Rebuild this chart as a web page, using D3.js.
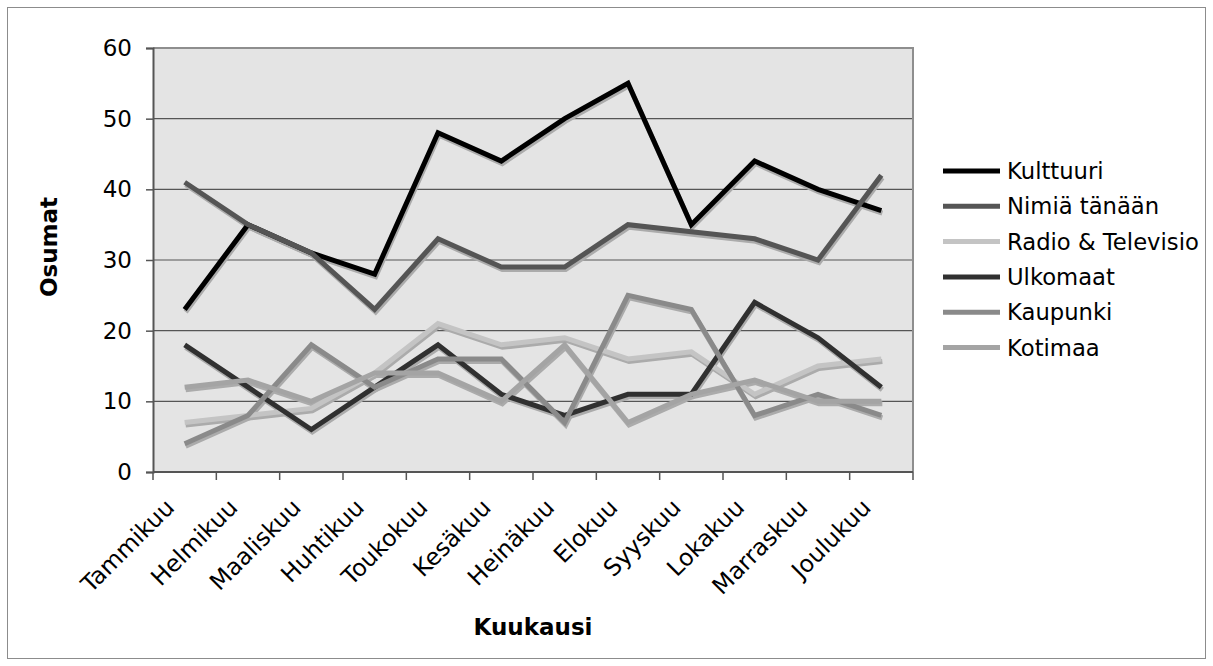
<!DOCTYPE html>
<html>
<head>
<meta charset="utf-8">
<script src="https://cdn.jsdelivr.net/npm/d3@7"></script>
<style>
  body { margin: 0; background: #fff; }
  text { font-family: "DejaVu Sans", Verdana, sans-serif; }
</style>
</head>
<body>
<div id="chart"></div>
<script>
// data
var months = ["Tammikuu", "Helmikuu", "Maaliskuu", "Huhtikuu", "Toukokuu", "Kesäkuu",
              "Heinäkuu", "Elokuu", "Syyskuu", "Lokakuu", "Marraskuu", "Joulukuu"];
var kulttuuri = [23, 35, 31, 28, 48, 44, 50, 55, 35, 44, 40, 37];
var nimiaTanaan = [41, 35, 31, 23, 33, 29, 29, 35, 34, 33, 30, 42];
var radioTv = [7, 8, 9, 14, 21, 18, 19, 16, 17, 11, 15, 16];
var ulkomaat = [18, 12, 6, 12, 18, 11, 8, 11, 11, 24, 19, 12];
var kaupunki = [4, 8, 18, 12, 16, 16, 7, 25, 23, 8, 11, 8];
var kotimaa = [12, 13, 10, 14, 14, 10, 18, 7, 11, 13, 10, 10];
var seriesNames = ["Kulttuuri", "Nimiä tänään", "Radio & Televisio", "Ulkomaat", "Kaupunki", "Kotimaa"];
var yTicks = [0, 10, 20, 30, 40, 50, 60];

var series = [kulttuuri, nimiaTanaan, radioTv, ulkomaat, kaupunki, kotimaa];
var colors = ["#000000", "#555555", "#c4c4c4", "#303030", "#8a8a8a", "#a4a4a4"];

var width = 1213, height = 666;
var plot = {left: 153, right: 913, top: 48, bottom: 472};
var fs = 23;

var svg = d3.select("#chart").append("svg")
  .attr("width", width)
  .attr("height", height);

// outer frame
svg.append("rect")
  .attr("x", 7.5).attr("y", 7.5)
  .attr("width", 1198).attr("height", 651)
  .attr("fill", "#fff")
  .attr("stroke", "#8c8c8c");

var x = d3.scaleBand().domain(months).range([plot.left, plot.right]);
var y = d3.scaleLinear().domain([0, 60]).range([plot.bottom, plot.top]);
function cx(i) { return x(months[i]) + x.bandwidth() / 2; }

// plot background
svg.append("rect")
  .attr("x", plot.left).attr("y", plot.top)
  .attr("width", plot.right - plot.left).attr("height", plot.bottom - plot.top)
  .attr("fill", "#e4e4e4");

// grid
svg.append("g").selectAll("line")
  .data(yTicks.filter(function(d) { return d > 0 && d < 60; }))
  .enter().append("line")
  .attr("x1", plot.left).attr("x2", plot.right)
  .attr("y1", function(d) { return y(d); })
  .attr("y2", function(d) { return y(d); })
  .attr("stroke", "#555")
  .attr("stroke-width", 1.2);

// top and right border
svg.append("path")
  .attr("d", "M" + plot.left + "," + plot.top + "H" + plot.right + "V" + plot.bottom)
  .attr("fill", "none")
  .attr("stroke", "#8e8e8e")
  .attr("stroke-width", 2);

// y axis
var yAxis = svg.append("g")
  .attr("transform", "translate(" + plot.left + ",0)")
  .call(d3.axisLeft(y).tickValues(yTicks).tickSize(7).tickPadding(14));
yAxis.select(".domain").attr("stroke", "#555").attr("stroke-width", 2);
yAxis.selectAll(".tick line").attr("stroke", "#555").attr("stroke-width", 1.5);
yAxis.selectAll("text")
  .attr("font-size", fs)
  .attr("fill", "#000")
  .style("font-family", "'DejaVu Sans', sans-serif");

// x axis: ticks at category boundaries
var xAxis = svg.append("g");
xAxis.append("line")
  .attr("x1", plot.left).attr("x2", plot.right)
  .attr("y1", plot.bottom).attr("y2", plot.bottom)
  .attr("stroke", "#555").attr("stroke-width", 2);
xAxis.selectAll("line.tk")
  .data(months.concat(["end"]))
  .enter().append("line")
  .attr("class", "tk")
  .attr("x1", function(d) { return d === "end" ? plot.right : x(d); })
  .attr("x2", function(d) { return d === "end" ? plot.right : x(d); })
  .attr("y1", plot.bottom).attr("y2", plot.bottom + 8)
  .attr("stroke", "#555").attr("stroke-width", 1.5);
xAxis.selectAll("text")
  .data(months)
  .enter().append("text")
  .attr("transform", function(d, i) {
    return "translate(" + (cx(i) - 9) + "," + 509 + ") rotate(-45)";
  })
  .attr("text-anchor", "end")
  .attr("font-size", 23.5)
  .text(function(d) { return d; });

// lines with drop shadow
var line = d3.line()
  .x(function(d, i) { return cx(i); })
  .y(function(d) { return y(d); });

var shadows = svg.append("g").attr("transform", "translate(1,2.5)");
var lines = svg.append("g");
series.forEach(function(s, k) {
  shadows.append("path")
    .attr("d", line(s))
    .attr("fill", "none")
    .attr("stroke", "#ababab")
    .attr("stroke-width", 5)
    .attr("stroke-linejoin", "miter");
  lines.append("path")
    .attr("d", line(s))
    .attr("fill", "none")
    .attr("stroke", colors[k])
    .attr("stroke-width", 5)
    .attr("stroke-linejoin", "miter");
});

// legend
var legend = svg.append("g").attr("transform", "translate(943,171)");
var items = legend.selectAll("g")
  .data(seriesNames)
  .enter().append("g")
  .attr("transform", function(d, i) { return "translate(0," + (i * 35.3) + ")"; });
items.append("line")
  .attr("x1", 0).attr("x2", 57)
  .attr("stroke", function(d, i) { return colors[i]; })
  .attr("stroke-width", 5);
items.append("text")
  .attr("x", 64).attr("dy", "0.36em")
  .attr("font-size", 22.7)
  .text(function(d) { return d; });

// axis titles
svg.append("text")
  .attr("transform", "translate(57,247) rotate(-90)")
  .attr("text-anchor", "middle")
  .attr("font-size", fs)
  .attr("font-weight", "bold")
  .text("Osumat");

svg.append("text")
  .attr("x", 533).attr("y", 635)
  .attr("text-anchor", "middle")
  .attr("font-size", fs)
  .attr("font-weight", "bold")
  .text("Kuukausi");
</script>
</body>
</html>
